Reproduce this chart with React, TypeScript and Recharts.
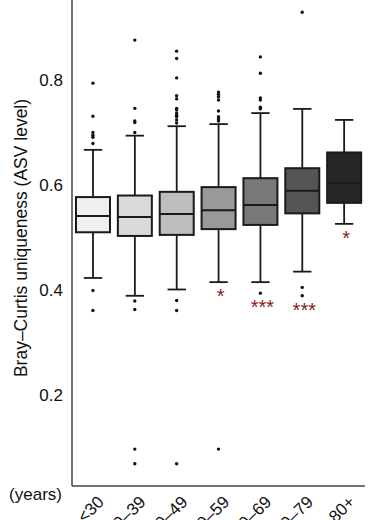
import React from 'react';
import { ComposedChart, Bar, Scatter, XAxis, YAxis } from 'recharts';

const ageGroups = ['<30', '30–39', '40–49', '50–59', '60–69', '70–79', '80+'];
const whiskerLow = [0.423, 0.389, 0.401, 0.415, 0.415, 0.435, 0.526];
const q1 = [0.51, 0.503, 0.505, 0.516, 0.524, 0.546, 0.566];
const median = [0.541, 0.539, 0.545, 0.552, 0.562, 0.589, 0.604];
const q3 = [0.577, 0.58, 0.587, 0.596, 0.613, 0.632, 0.662];
const whiskerHigh = [0.667, 0.694, 0.712, 0.716, 0.737, 0.745, 0.724];
const outliers = [
  [0.794, 0.731, 0.7, 0.695, 0.691, 0.679, 0.399, 0.361],
  [0.876, 0.746, 0.722, 0.719, 0.7, 0.379, 0.363, 0.097, 0.069],
  [0.855, 0.841, 0.804, 0.77, 0.764, 0.746, 0.743, 0.737, 0.733, 0.73, 0.724, 0.718, 0.38, 0.361, 0.069],
  [0.777, 0.773, 0.768, 0.762, 0.741, 0.73, 0.726, 0.722, 0.097],
  [0.844, 0.813, 0.766, 0.762, 0.748, 0.745, 0.394],
  [0.929, 0.405, 0.389],
  [],
];
const significance = ['', '', '', '*', '***', '***', '*'];
const yTicks = [0.2, 0.4, 0.6, 0.8];

const boxFills = ['#efefef', '#dadada', '#bdbdbd', '#999999', '#787878', '#555555', '#262626'];
const font = '"Liberation Sans", Arial, Helvetica, sans-serif';

const data = ageGroups.map((age, i) => ({
  age,
  lo: whiskerLow[i],
  q1: q1[i],
  median: median[i],
  q3: q3[i],
  hi: whiskerHigh[i],
  outliers: outliers[i],
  stars: significance[i],
  fill: boxFills[i],
}));

const outlierPoints = ageGroups.flatMap((age, i) => outliers[i].map((v) => ({ age, v })));

const BoxShape = (props: any) => {
  const { x, y, width, height, payload } = props;
  const { lo, hi, fill, stars } = payload;
  // linear map through the bar's own pixel range
  const yOf = (v: number) => y + (height * (hi - v)) / (hi - lo);
  const cx = x + width / 2;
  const cap = width * 0.27;
  const nearLow = Math.min(lo, ...payload.outliers.filter((v: number) => v > 0.3));
  const stroke = '#1a1a1a';
  return (
    <g>
      <line x1={cx} x2={cx} y1={yOf(hi)} y2={yOf(payload.q3)} stroke={stroke} strokeWidth={1.8} />
      <line x1={cx} x2={cx} y1={yOf(payload.q1)} y2={yOf(lo)} stroke={stroke} strokeWidth={1.8} />
      <line x1={cx - cap} x2={cx + cap} y1={yOf(hi)} y2={yOf(hi)} stroke={stroke} strokeWidth={1.8} />
      <line x1={cx - cap} x2={cx + cap} y1={yOf(lo)} y2={yOf(lo)} stroke={stroke} strokeWidth={1.8} />
      <rect
        x={x}
        y={yOf(payload.q3)}
        width={width}
        height={yOf(payload.q1) - yOf(payload.q3)}
        fill={fill}
        stroke={stroke}
        strokeWidth={2}
      />
      <line x1={x} x2={x + width} y1={yOf(payload.median)} y2={yOf(payload.median)} stroke={stroke} strokeWidth={2} />
      {stars && (
        <text
          x={cx + 2}
          y={yOf(nearLow) + 21}
          textAnchor="middle"
          fontSize={20}
          fill="#8b1c1c"
          fontFamily={font}
        >
          {stars}
        </text>
      )}
    </g>
  );
};

const OutlierDot = (props: any) => <circle cx={props.cx} cy={props.cy} r={1.7} fill="#111" />;

const AgeTick = ({ x, y, payload }: any) => {
  const tx = x + 12;
  const ty = y + 17;
  return (
    <text x={tx} y={ty} transform={`rotate(-45, ${tx}, ${ty})`} textAnchor="end" fontSize={17} fill="#111" fontFamily={font}>
      {payload.value}
    </text>
  );
};

const YearsLabel = ({ viewBox }: any) => (
  <text x={viewBox.x - 10} y={viewBox.y + 14} textAnchor="end" fontSize={17} fill="#111" fontFamily={font}>
    (years)
  </text>
);

const UniquenessLabel = ({ viewBox }: any) => {
  const cx = viewBox.x + 21;
  const cy = viewBox.y + viewBox.height / 2 - 5;
  return (
    <text
      x={cx}
      y={cy}
      transform={`rotate(-90, ${cx}, ${cy})`}
      textAnchor="middle"
      dominantBaseline="central"
      fontSize={17.5}
      fill="#111"
      fontFamily={font}
    >
      Bray–Curtis uniqueness (ASV level)
    </text>
  );
};

export default function App() {
  return (
    <div style={{ position: 'absolute', left: 0, top: 0, background: '#fff' }}>
      <ComposedChart width={374} height={520} data={data} margin={{ top: 0, right: 9, bottom: 0, left: 0 }}>
        <XAxis
          dataKey="age"
          type="category"
          allowDuplicatedCategory={false}
          height={34}
          interval={0}
          tickLine={false}
          tickSize={0}
          tickMargin={0}
          axisLine={{ stroke: '#444', strokeWidth: 1.5 }}
          tick={<AgeTick />}
          label={{ content: <YearsLabel /> }}
        />
        <YAxis
          type="number"
          width={72}
          domain={[0.0267, 0.9524]}
          allowDataOverflow
          ticks={yTicks}
          tickFormatter={(v: number) => v.toFixed(1)}
          tickLine={false}
          tickSize={0}
          tickMargin={9}
          axisLine={{ stroke: '#444', strokeWidth: 1.5 }}
          tick={{ fontSize: 17, fill: '#111', fontFamily: font }}
          label={{ content: <UniquenessLabel /> }}
        />
        <Bar
          dataKey={(d: any) => [d.lo, d.hi]}
          barSize={34}
          shape={<BoxShape />}
          isAnimationActive={false}
        />
        <Scatter data={outlierPoints} dataKey="v" shape={<OutlierDot />} isAnimationActive={false} />
      </ComposedChart>
    </div>
  );
}
